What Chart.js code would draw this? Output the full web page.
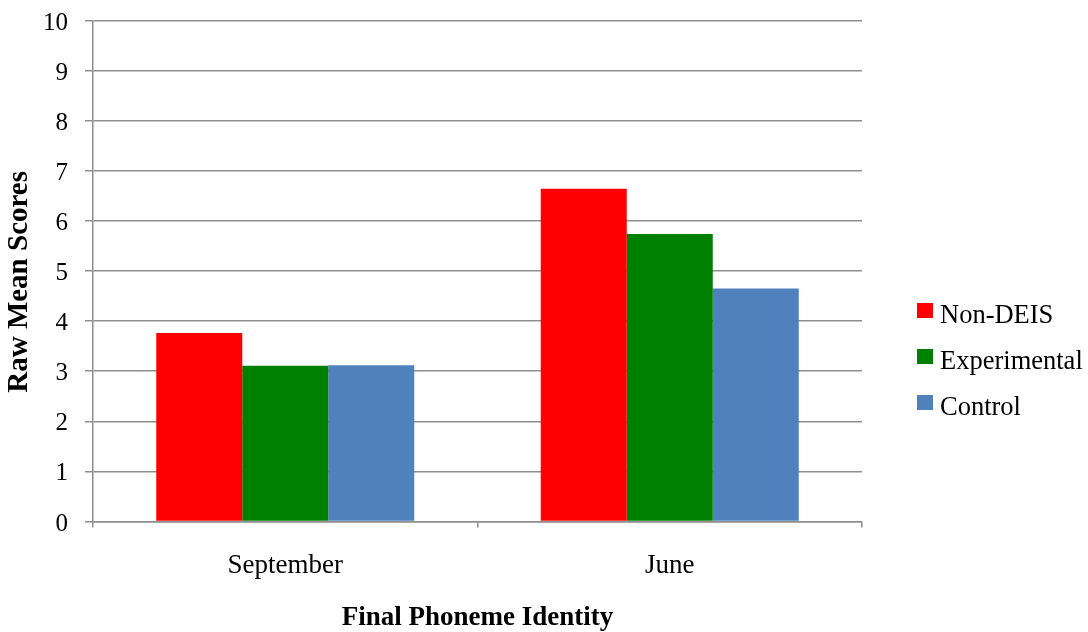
<!DOCTYPE html>
<html>
<head>
<meta charset="utf-8">
<script src="https://cdn.jsdelivr.net/npm/chart.js@4/dist/chart.umd.min.js"></script>
<style>
  html, body { margin: 0; padding: 0; background: #fff; }
  #wrap { width: 1088px; height: 632px; position: relative; }
</style>
</head>
<body>
<div id="wrap"><canvas id="c" width="1088" height="632"></canvas></div>
<script>
const categories = ["September", "June"];
const seriesNames = ["Non-DEIS", "Experimental", "Control"];
const nonDEIS = [3.76, 6.64];
const experimental = [3.11, 5.74];
const control = [3.12, 4.65];
const seriesColors = ["#FF0000", "#008000", "#4F81BD"];
const yTicks = [0, 1, 2, 3, 4, 5, 6, 7, 8, 9, 10];
const xTitle = "Final Phoneme Identity";
const yTitle = "Raw Mean Scores";

const FONT = "'Liberation Serif', 'Times New Roman', serif";
const GRID = "#8e8e8e";

const customLegend = {
  id: 'customLegend',
  afterDraw(chart, args, opts) {
    const ctx = chart.ctx;
    const area = chart.chartArea;
    const x = area.right + opts.gap;
    const n = chart.data.datasets.length;
    const startY = opts.centerY - (n - 1) * opts.spacing / 2;
    ctx.save();
    ctx.font = opts.fontSize + "px " + FONT;
    ctx.textBaseline = 'alphabetic';
    ctx.textAlign = 'left';
    chart.data.datasets.forEach((ds, i) => {
      const cy = startY + i * opts.spacing;
      ctx.fillStyle = ds.backgroundColor;
      ctx.fillRect(x, cy - opts.boxH / 2, opts.boxW, opts.boxH);
      ctx.fillStyle = '#000';
      ctx.fillText(ds.label, x + opts.boxW + 7, cy + 12.5);
    });
    ctx.restore();
  }
};

const datasets = [nonDEIS, experimental, control].map((vals, i) => ({
  label: seriesNames[i],
  data: vals,
  backgroundColor: seriesColors[i],
  borderWidth: 0,
  categoryPercentage: 0.671,
  barPercentage: 1.0
}));

new Chart(document.getElementById('c'), {
  type: 'bar',
  data: { labels: categories, datasets },
  plugins: [customLegend],
  options: {
    responsive: false,
    animation: false,
    devicePixelRatio: 1,
    layout: { padding: { top: 20.5, right: 226, bottom: 0, left: 0 } },
    plugins: {
      legend: { display: false },
      tooltip: { enabled: false },
      customLegend: { gap: 55, centerY: 356.5, spacing: 46, boxW: 16, boxH: 15, fontSize: 26.5 }
    },
    scales: {
      x: {
        grid: { display: true, drawOnChartArea: false, drawTicks: true, tickLength: 6, color: GRID, lineWidth: 1.5, offset: true },
        border: { display: true, color: GRID, width: 1.5 },
        ticks: { color: '#000', font: { family: FONT, size: 27 }, padding: 22 },
        title: { display: true, text: xTitle, color: '#000', font: { family: FONT, size: 27, weight: 'bold' }, padding: { top: 18, bottom: -2 } },
        afterFit: (s) => { s.height = 110.5; s.paddingLeft = 0; s.paddingRight = 0; }
      },
      y: {
        min: 0, max: 10,
        afterBuildTicks: (s) => { s.ticks = yTicks.map(v => ({ value: v })); },
        grid: { color: GRID, lineWidth: 1.5, drawTicks: true, tickLength: 8 },
        border: { display: true, color: GRID, width: 1.5 },
        ticks: { color: '#000', font: { family: FONT, size: 25 }, padding: 17, labelOffset: 2.5 },
        title: { display: true, text: yTitle + "\u00a0\u00a0\u00a0", color: '#000', font: { family: FONT, size: 29, weight: 'bold' }, padding: { top: 2, bottom: 0 } },
        afterFit: (s) => { s.width = 93; s.paddingTop = 0; s.paddingBottom = 0; }
      }
    }
  }
});
</script>
</body>
</html>
